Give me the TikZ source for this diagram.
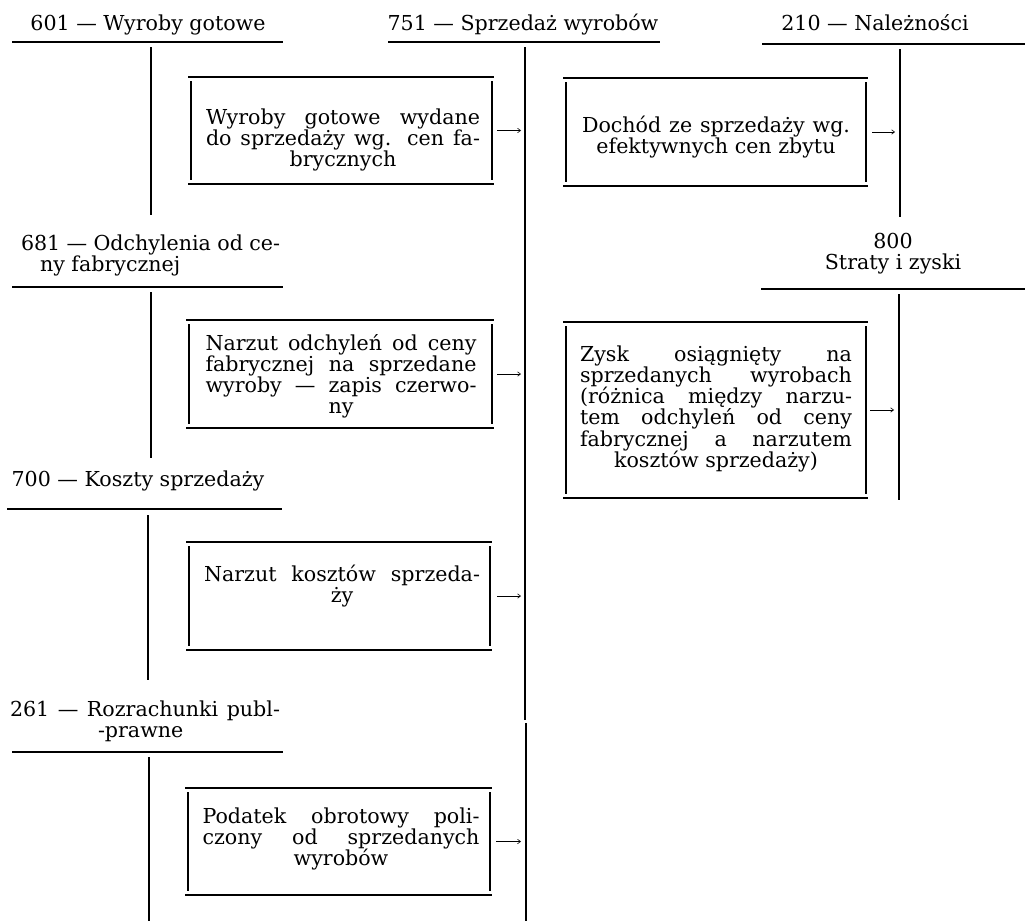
\documentclass[tikz,border=0pt]{standalone}
\usepackage{fontspec}
\setmainfont{DejaVu Serif}
\usetikzlibrary{arrows.meta,calc}
\newcommand\jl[1]{\makebox[\linewidth][s]{#1}}
\newcommand\drawframe[1]{%
  \draw[frm] ([xshift=-3pt]#1.north west) -- ([xshift=2pt]#1.north east);
  \draw[frm] ([xshift=-3pt]#1.south west) -- ([xshift=2pt]#1.south east);
  \draw[frm] ([yshift=-4pt]#1.north west) -- ([yshift=4pt]#1.south west);
  \draw[frm] ([yshift=-4pt]#1.north east) -- ([yshift=4pt]#1.south east);}
\tikzset{
  ln/.style={line width=1.2pt},
  frm/.style={line width=1.2pt},
  arr/.style={line width=0.6pt,-{Straight Barb[length=3pt,width=4.5pt]}},
  txt/.style={inner sep=0pt,outer sep=0pt,font=\fontsize{20.6}{21.3}\selectfont},
  framebox/.style={draw=none,inner sep=0pt,outer sep=0pt},
}
\begin{document}
\begin{tikzpicture}[x=1pt,y=-1pt]
\fill[white] (0,0) rectangle (1025,921);
\useasboundingbox (0,0) rectangle (1025,921);

% account titles
\node[txt,anchor=base] (t601) at (148,30) {601 --- Wyroby gotowe};
\node[txt,anchor=base] (t751) at (523,30) {751 --- Sprzedaż wyrobów};
\node[txt,anchor=base] (t210) at (875,30) {210 --- Należności};
\node[txt,anchor=base west] (t681) at (21,250) {\parbox[t]{259pt}{\jl{681 --- Odchylenia od ce-}\\\hspace*{19pt}ny fabrycznej}};
\node[txt,anchor=base] (t800) at (893,248) {\parbox[t]{200pt}{\centering 800\\Straty i zyski}};
\node[txt,anchor=base] (t700) at (138,486) {700 --- Koszty sprzedaży};
\node[txt,anchor=base west] (t261) at (10,716) {\parbox[t]{270pt}{\jl{261 --- Rozrachunki publ-}\\\hspace*{88pt}-prawne}};

% T-account lines
\coordinate (v751) at (526,42);
\coordinate (v210) at (900,44);
\coordinate (v800) at (899,289);
\draw[ln] (12,42) -- (283,42);   \draw[ln] (151,47) -- (151,215);
\draw[ln] (388,42) -- (660,42);  \draw[ln] (525,47) -- (525,720); \draw[ln] (526,723) -- (526,921);
\draw[ln] (762,44) -- (1025,44); \draw[ln] (900,49) -- (900,217);
\draw[ln] (12,287) -- (283,287); \draw[ln] (151,292) -- (151,458);
\draw[ln] (761,289) -- (1025,289); \draw[ln] (899,294) -- (899,500);
\draw[ln] (7,509) -- (282,509);  \draw[ln] (148,515) -- (148,680);
\draw[ln] (12,752) -- (283,752); \draw[ln] (149,757) -- (149,921);

% boxes
\node[framebox,minimum width=301pt,minimum height=107pt] (fA) at (341.5,130.5) {};
\node[framebox,minimum width=300pt,minimum height=108pt] (fB) at (716,132) {};
\node[framebox,minimum width=300pt,minimum height=176pt] (fC) at (716,410) {};
\node[framebox,minimum width=303pt,minimum height=108pt] (fD) at (340.5,374) {};
\node[framebox,minimum width=301pt,minimum height=108pt] (fE) at (339.5,596) {};
\node[framebox,minimum width=302pt,minimum height=107pt] (fF) at (339,841.5) {};
\drawframe{fA}\drawframe{fB}\drawframe{fC}\drawframe{fD}\drawframe{fE}\drawframe{fF}

% box texts
\node[txt,anchor=base] (tA) at (343,124) {\parbox[t]{274pt}{\centering\jl{Wyroby gotowe wydane}\\\jl{do sprzedaży wg. cen fa-}\\brycznych}};
\node[txt,anchor=base] (tB) at (716,132) {\parbox[t]{268pt}{\centering\jl{Dochód ze sprzedaży wg.}\\efektywnych cen zbytu}};
\node[txt,anchor=base] (tC) at (716,361) {\parbox[t]{272pt}{\centering\jl{Zysk osiągnięty na}\\\jl{sprzedanych wyrobach}\\\jl{(różnica między narzu-}\\\jl{tem odchyleń od ceny}\\\jl{fabrycznej a narzutem}\\kosztów sprzedaży)}};
\node[txt,anchor=base] (tD) at (341,350) {\parbox[t]{271pt}{\centering\jl{Narzut odchyleń od ceny}\\\jl{fabrycznej na sprzedane}\\\jl{wyroby --- zapis czerwo-}\\ny}};
\node[txt,anchor=base] (tE) at (342,581) {\parbox[t]{276pt}{\centering\jl{Narzut kosztów sprzeda-}\\ży}};
\node[txt,anchor=base] (tF) at (341,823) {\parbox[t]{277pt}{\centering\jl{Podatek obrotowy poli-}\\\jl{czony od sprzedanych}\\wyrobów}};

% arrows
\draw[arr] ($(fA.east)+(5,0)$) -- ($(fA.east -| v751)+(-5,0)$);
\draw[arr] ($(fB.east)+(6,0)$) -- ($(fB.east -| v210)+(-5,0)$);
\draw[arr] ($(fC.east)+(4,0)$) -- ($(fC.east -| v800)+(-5,0)$);
\draw[arr] ($(fD.east)+(5,0)$) -- ($(fD.east -| v751)+(-5,0)$);
\draw[arr] ($(fE.east)+(7,0)$) -- ($(fE.east -| v751)+(-5,0)$);
\draw[arr] ($(fF.east)+(6,0)$) -- ($(fF.east -| v751)+(-5,0)$);
\end{tikzpicture}
\end{document}
